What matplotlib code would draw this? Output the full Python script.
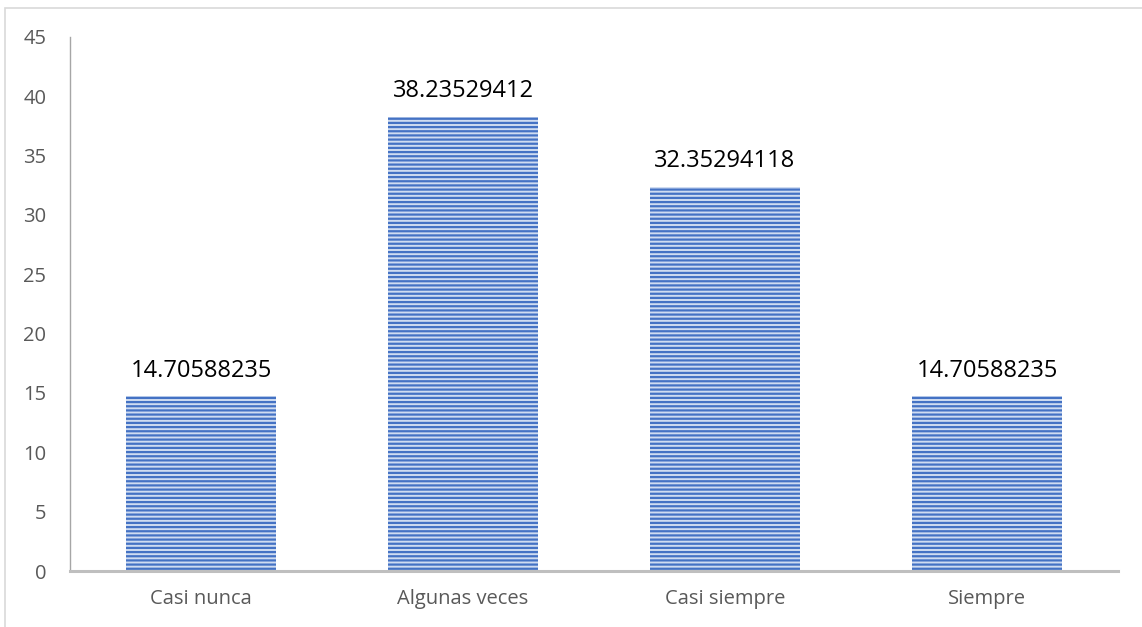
import matplotlib.pyplot as plt
from matplotlib.patches import Rectangle

categories = ['Casi nunca', 'Algunas veces', 'Casi siempre', 'Siempre']
values = [14.70588235, 38.23529412, 32.35294118, 14.70588235]
y_ticks = [0, 5, 10, 15, 20, 25, 30, 35, 40, 45]

plt.rcParams['font.family'] = ['Open Sans', 'DejaVu Sans']
plt.rcParams['hatch.linewidth'] = 1.6

fig = plt.figure(figsize=(11.42, 6.27), dpi=100)
ax = fig.add_axes([0.0613, 0.0893, 0.9177, 0.852])

# outer chart border (cut off at right/bottom like the screenshot)
fig.patches.append(Rectangle((5 / 1142, -0.1), 1.2, 0.1 + 1 - 8 / 627,
                             transform=fig.transFigure, fill=False,
                             edgecolor='#d9d9d9', linewidth=1.2))

x = range(len(categories))
bars = ax.bar(x, values, width=0.573, facecolor='#cfdcf1', edgecolor='#4472C4',
              hatch='----', linewidth=0)

for b, v in zip(bars, values):
    ax.annotate(f'{v:.8f}', (b.get_x() + b.get_width() / 2, v),
                xytext=(0, 10), textcoords='offset points',
                ha='center', va='bottom', fontsize=17, color='black')

ax.set_xlim(-0.5, len(categories) - 0.5)
ax.set_ylim(0, 45)
ax.set_yticks(y_ticks)
ax.set_xticks(list(x))
ax.set_xticklabels(categories)

ax.tick_params(axis='y', length=0, pad=17, labelsize=14.5, labelcolor='#595959')
ax.tick_params(axis='x', length=0, pad=13, labelsize=14.5, labelcolor='#595959')

for s in ['top', 'right']:
    ax.spines[s].set_visible(False)
ax.spines['left'].set_color('#a6a6a6')
ax.spines['left'].set_linewidth(1.0)
ax.spines['bottom'].set_color('#bfbfbf')
ax.spines['bottom'].set_linewidth(2.2)

fig.savefig('out.png', dpi=100)
